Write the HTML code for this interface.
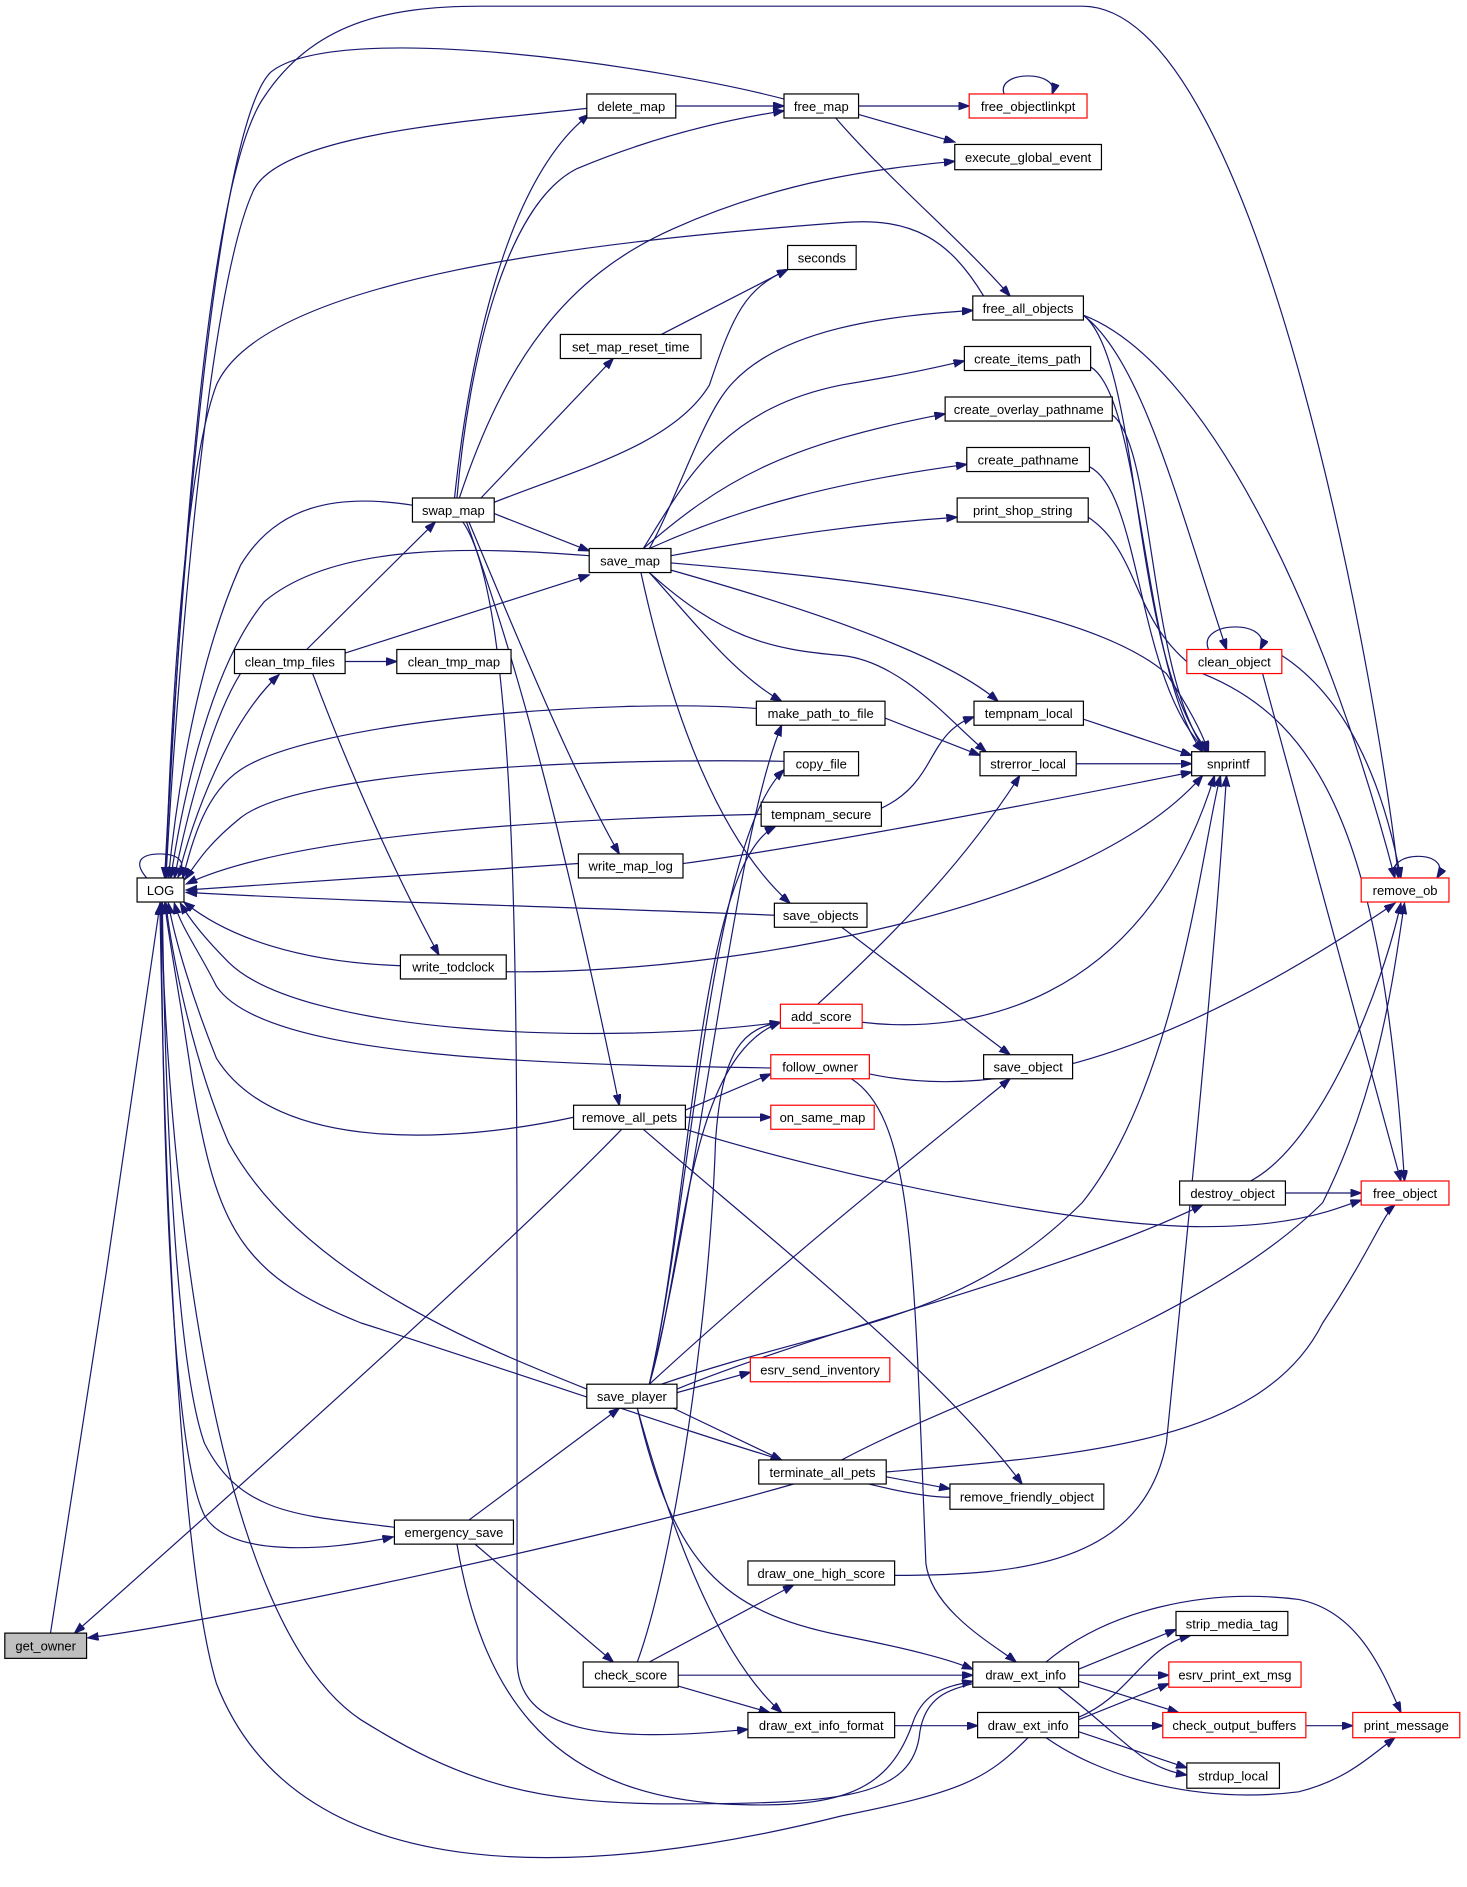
<!DOCTYPE html>
<html><head><meta charset="utf-8"><style>
html,body{margin:0;padding:0;background:#fff;}
svg{display:block;}
text{font-family:"Liberation Sans",sans-serif;font-size:10.8px;text-anchor:middle;fill:#000;}
.e{fill:none;stroke:#191970;stroke-width:1;marker-end:url(#a);}
.n{fill:#fff;stroke:#000;stroke-width:1;}
.r{fill:#fff;stroke:#f00;stroke-width:1;}
</style></head><body>
<svg width="1467" height="1887" viewBox="0 0 1220 1569" xmlns="http://www.w3.org/2000/svg">
<defs><marker id="a" markerUnits="userSpaceOnUse" markerWidth="10" markerHeight="7" refX="9" refY="3.2" orient="auto"><path d="M0,0 L9,3.2 L0,6.4z" fill="#191970" stroke="#191970"/></marker></defs>
<g>
<path class="e" d="M42,1358 C60,1250 120,850 133,752"/>
<path class="e" d="M517,939 C420,1040 150,1280 62,1358"/>
<path class="e" d="M660,1234 C500,1280 200,1345 73,1362"/>
<path class="e" d="M122,730 C110,716 118,710 133,710 C148,710 156,716 148,729"/>
<path class="e" d="M655,83 C550,55 280,15 225,60 C175,110 145,560 137,730"/>
<path class="e" d="M488,90 C400,100 230,110 210,160 C170,250 145,600 138,730"/>
<path class="e" d="M818,246 C790,200 760,180 700,185 C500,200 220,230 180,320 C150,400 140,650 138,730"/>
<path class="e" d="M343,420 C280,410 230,420 200,470 C160,560 145,680 140,730"/>
<path class="e" d="M490,462 C400,455 280,450 220,500 C170,560 148,690 142,730"/>
<path class="e" d="M200,560 C175,600 155,680 145,730"/>
<path class="e" d="M148,730 C160,680 190,600 232,561"/>
<path class="e" d="M629,589 C500,580 260,600 200,640 C170,660 160,700 152,730"/>
<path class="e" d="M652,633 C500,630 250,640 200,680 C175,700 165,715 154,731"/>
<path class="e" d="M633,677 C500,680 250,690 155,735"/>
<path class="e" d="M481,718 L155,740"/>
<path class="e" d="M644,761 C500,755 300,750 155,742"/>
<path class="e" d="M333,803 C250,800 190,780 153,750"/>
<path class="e" d="M649,850 C500,870 250,860 190,800 C170,780 158,765 150,751"/>
<path class="e" d="M641,888 C450,885 220,880 180,820 C165,790 150,770 145,751"/>
<path class="e" d="M477,929 C380,950 230,960 180,880 C160,830 145,780 140,751"/>
<path class="e" d="M488,1155 C400,1120 250,1060 190,950 C160,880 142,790 138,751"/>
<path class="e" d="M790,1245 C720,1245 520,1170 300,1100 C200,1060 180,1020 160,900 C150,830 140,780 137,751"/>
<path class="e" d="M328,1270 C250,1260 200,1260 170,1200 C145,1130 137,900 135,751"/>
<path class="e" d="M134,751 C135,900 140,1200 170,1260 C190,1295 270,1290 327,1278"/>
<path class="e" d="M809,1400 C790,1405 770,1410 765,1440 C760,1495 700,1500 560,1500 C440,1500 380,1480 300,1430 C180,1350 140,1000 134,751"/>
<path class="e" d="M855,1445 C820,1480 800,1490 700,1510 C500,1560 250,1580 180,1400 C150,1300 137,1000 133,751"/>
<path class="e" d="M380,1284 C400,1400 450,1490 600,1500 C700,1505 740,1490 760,1430 C770,1405 790,1402 809,1398"/>
<path class="e" d="M137,730 C150,500 170,150 220,80 C260,20 320,5 400,5 L900,5 C1050,5 1150,600 1163,730"/>
<path class="e" d="M562,88 L652,88"/>
<path class="e" d="M378,414 C390,300 420,150 490,95"/>
<path class="e" d="M380,414 C390,300 420,170 480,140 C540,115 600,100 652,92"/>
<path class="e" d="M382,414 C420,300 470,230 560,190 C650,150 730,140 794,134"/>
<path class="e" d="M400,414 L510,298"/>
<path class="e" d="M410,418 C480,390 560,370 590,320 C610,260 620,240 655,224"/>
<path class="e" d="M550,278 L655,224"/>
<path class="e" d="M411,427 L490,458"/>
<path class="e" d="M390,434 C430,530 480,650 515,710"/>
<path class="e" d="M388,434 C430,550 470,700 515,919"/>
<path class="e" d="M385,434 C430,500 430,800 430,1100 L430,1380 C430,1440 500,1450 622,1438"/>
<path class="e" d="M714,88 L806,88"/>
<path class="e" d="M714,95 L794,118"/>
<path class="e" d="M695,98 C740,150 800,200 840,246"/>
<path class="e" d="M835,78 C828,58 882,58 875,78"/>
<path class="e" d="M901,262 C1000,300 1100,500 1160,730"/>
<path class="e" d="M901,262 C950,300 980,420 1020,540"/>
<path class="e" d="M901,262 C950,300 940,550 1005,625"/>
<path class="e" d="M540,456 C560,420 580,360 600,330 C640,270 750,262 809,258"/>
<path class="e" d="M535,456 C570,400 600,340 700,320 C760,310 780,305 802,300"/>
<path class="e" d="M535,456 C600,400 650,370 786,344"/>
<path class="e" d="M540,456 C620,420 700,400 804,386"/>
<path class="e" d="M558,462 C650,445 720,435 796,430"/>
<path class="e" d="M558,468 C700,480 900,500 970,560 C990,590 1000,610 1005,625"/>
<path class="e" d="M558,474 C650,500 780,540 830,583"/>
<path class="e" d="M540,476 C600,530 640,540 700,545 C750,550 790,600 820,625"/>
<path class="e" d="M540,476 C580,520 610,560 650,583"/>
<path class="e" d="M533,476 C560,600 600,700 657,751"/>
<path class="e" d="M907,305 C950,330 950,560 1000,625"/>
<path class="e" d="M925,345 C960,370 955,560 1003,625"/>
<path class="e" d="M906,388 C950,410 945,570 1004,625"/>
<path class="e" d="M905,430 C950,460 940,520 1000,560 C1100,600 1150,700 1168,982"/>
<path class="e" d="M255,540 L362,434"/>
<path class="e" d="M287,543 L490,478"/>
<path class="e" d="M287,550 L330,550"/>
<path class="e" d="M260,560 C290,640 330,730 365,794"/>
<path class="e" d="M1005,540 C995,515 1060,515 1048,540"/>
<path class="e" d="M1066,545 C1120,580 1150,650 1165,730"/>
<path class="e" d="M1050,560 L1165,982"/>
<path class="e" d="M1160,730 C1150,706 1210,706 1195,730"/>
<path class="e" d="M736,597 L815,628"/>
<path class="e" d="M901,598 L991,628"/>
<path class="e" d="M895,635 L991,635"/>
<path class="e" d="M733,672 C780,650 770,610 810,596"/>
<path class="e" d="M568,718 C700,700 900,660 991,642"/>
<path class="e" d="M421,808 C600,810 900,760 1000,645"/>
<path class="e" d="M700,771 L840,877"/>
<path class="e" d="M680,835 C740,780 800,720 848,645"/>
<path class="e" d="M717,850 C800,860 950,840 1010,645"/>
<path class="e" d="M723,893 C850,920 1000,860 1160,751"/>
<path class="e" d="M708,897 C760,930 760,1050 770,1300 C775,1340 830,1370 845,1382"/>
<path class="e" d="M570,923 L641,893"/>
<path class="e" d="M570,929 L641,929"/>
<path class="e" d="M570,939 C700,980 900,1020 1000,1020 C1080,1020 1110,1005 1132,998"/>
<path class="e" d="M535,939 C640,1030 780,1140 850,1234"/>
<path class="e" d="M1040,982 C1100,950 1150,820 1165,751"/>
<path class="e" d="M1069,992 L1132,992"/>
<path class="e" d="M540,1151 C580,1000 610,700 650,603"/>
<path class="e" d="M540,1151 C575,1000 590,700 652,640"/>
<path class="e" d="M540,1151 C575,1000 580,720 645,687"/>
<path class="e" d="M540,1151 C570,1050 570,880 649,850"/>
<path class="e" d="M540,1151 C650,1050 750,970 840,897"/>
<path class="e" d="M550,1151 C700,1100 800,1100 900,1000 C980,900 1000,700 1015,645"/>
<path class="e" d="M563,1155 C700,1100 880,1060 1000,1002"/>
<path class="e" d="M563,1158 L624,1141"/>
<path class="e" d="M560,1171 L650,1214"/>
<path class="e" d="M530,1171 C560,1280 600,1380 650,1424"/>
<path class="e" d="M530,1171 C560,1300 600,1340 700,1360 C760,1372 790,1380 809,1388"/>
<path class="e" d="M737,1228 L790,1238"/>
<path class="e" d="M700,1214 C800,1160 1000,1100 1100,1000 C1150,900 1160,800 1168,751"/>
<path class="e" d="M737,1224 C900,1210 1050,1200 1100,1100 C1140,1040 1150,1010 1160,1002"/>
<path class="e" d="M744,1310 C850,1310 950,1300 970,1200 C990,1000 1010,800 1020,645"/>
<path class="e" d="M390,1264 L515,1171"/>
<path class="e" d="M395,1284 L510,1382"/>
<path class="e" d="M540,1382 L660,1318"/>
<path class="e" d="M564,1393 L809,1393"/>
<path class="e" d="M564,1402 L640,1424"/>
<path class="e" d="M530,1382 C560,1300 590,1100 595,950 C600,870 620,855 649,850"/>
<path class="e" d="M744,1435 L813,1435"/>
<path class="e" d="M897,1388 L978,1355"/>
<path class="e" d="M897,1393 L972,1393"/>
<path class="e" d="M897,1398 L980,1424"/>
<path class="e" d="M870,1382 C920,1340 1000,1320 1080,1330 C1130,1340 1150,1390 1165,1424"/>
<path class="e" d="M897,1428 C940,1410 950,1370 990,1360"/>
<path class="e" d="M897,1430 L972,1400"/>
<path class="e" d="M897,1435 L967,1435"/>
<path class="e" d="M897,1440 L987,1470"/>
<path class="e" d="M870,1445 C920,1480 1000,1500 1080,1490 C1120,1480 1140,1460 1160,1445"/>
<path class="e" d="M1086,1435 L1125,1435"/>
<path class="e" d="M880,1403 C940,1450 950,1470 987,1476"/>
</g>
<g>
<rect x="4" y="1358" width="68" height="21" fill="#bfbfbf" stroke="#000"/><text x="38" y="1372.5">get_owner</text>
<rect class="n" x="114" y="730" width="39" height="20"/><text x="133.5" y="744">LOG</text>
<rect class="n" x="488" y="78" width="74" height="20"/><text x="525" y="92">delete_map</text>
<rect class="n" x="652" y="78" width="62" height="20"/><text x="683" y="92">free_map</text>
<rect class="r" x="806" y="78" width="98" height="20"/><text x="855" y="92">free_objectlinkpt</text>
<rect class="n" x="794" y="120" width="122" height="21"/><text x="855" y="134.5">execute_global_event</text>
<rect class="n" x="655" y="204" width="57" height="20"/><text x="683.5" y="218">seconds</text>
<rect class="n" x="466" y="278" width="117" height="20"/><text x="524.5" y="292">set_map_reset_time</text>
<rect class="n" x="809" y="246" width="92" height="20"/><text x="855" y="260">free_all_objects</text>
<rect class="n" x="802" y="288" width="105" height="20"/><text x="854.5" y="302">create_items_path</text>
<rect class="n" x="786" y="330" width="139" height="20"/><text x="855.5" y="344">create_overlay_pathname</text>
<rect class="n" x="804" y="372" width="102" height="20"/><text x="855" y="386">create_pathname</text>
<rect class="n" x="796" y="414" width="109" height="20"/><text x="850.5" y="428">print_shop_string</text>
<rect class="n" x="343" y="414" width="68" height="20"/><text x="377" y="428">swap_map</text>
<rect class="n" x="490" y="456" width="68" height="20"/><text x="524" y="470">save_map</text>
<rect class="n" x="195" y="540" width="92" height="20"/><text x="241" y="554">clean_tmp_files</text>
<rect class="n" x="330" y="540" width="95" height="20"/><text x="377.5" y="554">clean_tmp_map</text>
<rect class="r" x="987" y="540" width="79" height="20"/><text x="1026.5" y="554">clean_object</text>
<rect class="n" x="629" y="583" width="107" height="20"/><text x="682.5" y="597">make_path_to_file</text>
<rect class="n" x="810" y="583" width="91" height="20"/><text x="855.5" y="597">tempnam_local</text>
<rect class="n" x="652" y="625" width="62" height="20"/><text x="683" y="639">copy_file</text>
<rect class="n" x="815" y="625" width="80" height="20"/><text x="855" y="639">strerror_local</text>
<rect class="n" x="991" y="625" width="61" height="20"/><text x="1021.5" y="639">snprintf</text>
<rect class="n" x="633" y="667" width="100" height="20"/><text x="683" y="681">tempnam_secure</text>
<rect class="n" x="481" y="710" width="87" height="20"/><text x="524.5" y="724">write_map_log</text>
<rect class="r" x="1132" y="730" width="73" height="20"/><text x="1168.5" y="744">remove_ob</text>
<rect class="n" x="644" y="751" width="77" height="20"/><text x="682.5" y="765">save_objects</text>
<rect class="n" x="333" y="794" width="88" height="20"/><text x="377" y="808">write_todclock</text>
<rect class="r" x="649" y="835" width="68" height="20"/><text x="683" y="849">add_score</text>
<rect class="r" x="641" y="877" width="82" height="20"/><text x="682" y="891">follow_owner</text>
<rect class="n" x="818" y="877" width="74" height="20"/><text x="855" y="891">save_object</text>
<rect class="n" x="477" y="919" width="93" height="20"/><text x="523.5" y="933">remove_all_pets</text>
<rect class="r" x="641" y="919" width="86" height="20"/><text x="684" y="933">on_same_map</text>
<rect class="n" x="981" y="982" width="88" height="20"/><text x="1025" y="996">destroy_object</text>
<rect class="r" x="1132" y="982" width="73" height="20"/><text x="1168.5" y="996">free_object</text>
<rect class="r" x="624" y="1129" width="116" height="20"/><text x="682" y="1143">esrv_send_inventory</text>
<rect class="n" x="488" y="1151" width="75" height="20"/><text x="525.5" y="1165">save_player</text>
<rect class="n" x="631" y="1214" width="106" height="20"/><text x="684" y="1228">terminate_all_pets</text>
<rect class="n" x="790" y="1234" width="128" height="21"/><text x="854" y="1248.5">remove_friendly_object</text>
<rect class="n" x="328" y="1264" width="99" height="20"/><text x="377.5" y="1278">emergency_save</text>
<rect class="n" x="622" y="1298" width="122" height="20"/><text x="683" y="1312">draw_one_high_score</text>
<rect class="n" x="978" y="1340" width="93" height="20"/><text x="1024.5" y="1354">strip_media_tag</text>
<rect class="n" x="485" y="1382" width="79" height="21"/><text x="524.5" y="1396.5">check_score</text>
<rect class="n" x="809" y="1382" width="88" height="21"/><text x="853" y="1396.5">draw_ext_info</text>
<rect class="r" x="972" y="1382" width="110" height="21"/><text x="1027" y="1396.5">esrv_print_ext_msg</text>
<rect class="n" x="622" y="1424" width="122" height="21"/><text x="683" y="1438.5">draw_ext_info_format</text>
<rect class="n" x="813" y="1424" width="84" height="21"/><text x="855" y="1438.5">draw_ext_info</text>
<rect class="r" x="967" y="1424" width="119" height="21"/><text x="1026.5" y="1438.5">check_output_buffers</text>
<rect class="r" x="1125" y="1424" width="89" height="21"/><text x="1169.5" y="1438.5">print_message</text>
<rect class="n" x="987" y="1466" width="77" height="21"/><text x="1025.5" y="1480.5">strdup_local</text>
</g>
</svg>
</body></html>
